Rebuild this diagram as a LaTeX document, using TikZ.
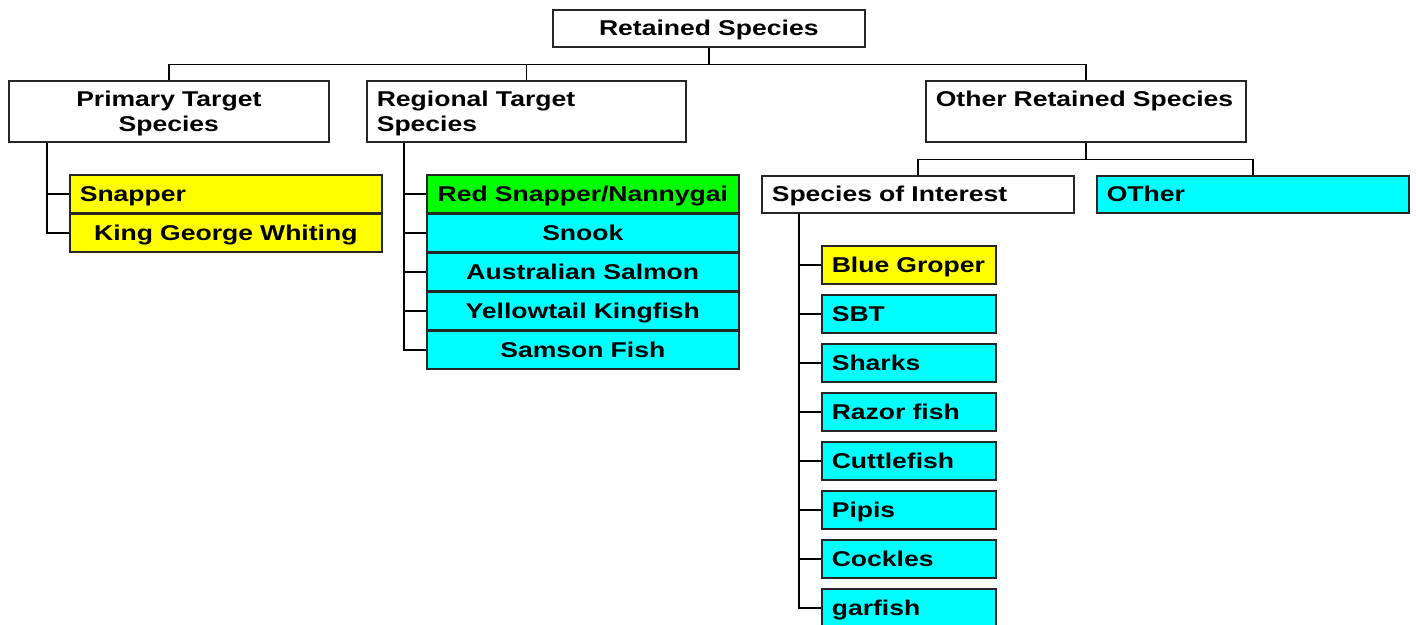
\documentclass[tikz,border=0pt]{standalone}
\usepackage{fontspec}
\newfontfamily\lab{Liberation Sans}[FakeStretch=1.24]
\definecolor{cy}{HTML}{00FFFF}
\definecolor{ye}{HTML}{FFFF00}
\definecolor{gr}{HTML}{00FF00}
\begin{document}
\begin{tikzpicture}[x=1pt,y=-1pt,
  bx/.style={draw=black!85, line width=1.6pt, anchor=north west, inner xsep=10pt, inner ysep=0pt,
     font=\lab\bfseries\fontsize{21.4}{25}\selectfont, text height=15.3pt, text depth=0pt},
  two/.style={text depth=25pt, minimum height=61pt},
  one/.style={minimum height=38pt},
  w312/.style={text width=292pt},
  w174/.style={text width=154pt},
  con/.style={draw=black, line width=1.6pt}]
\useasboundingbox (0,0) rectangle (1416,624);
% top level
\node[bx, w312, minimum height=37pt, align=center] (root) at (552,9) {Retained Species};
\node[bx, two, text width=300pt, align=center] (prim) at (8,80) {Primary Target\\Species};
\node[bx, two, text width=299pt, align=left] (reg) at (366,80) {Regional Target\\Species};
\node[bx, two, text width=300pt, align=left] (oth) at (925,80) {Other Retained Species};
% other retained children
\node[bx, w312, minimum height=37pt, align=left] (soi) at (761,175) {Species of Interest};
\node[bx, w312, minimum height=37pt, align=left, fill=cy] (otr) at (1096,175) {OTher};
% primary children
\node[bx, w312, one, align=left, fill=ye] (snap) at (69,174) {Snapper};
\node[bx, w312, one, align=center, fill=ye] (kgw) at (69,213) {King George Whiting};
% regional children
\node[bx, w312, one, align=center, fill=gr] (rsn) at (426,174) {Red Snapper/Nannygai};
\node[bx, w312, one, align=center, fill=cy] (snk) at (426,213) {Snook};
\node[bx, w312, one, align=center, fill=cy] (aus) at (426,252) {Australian Salmon};
\node[bx, w312, one, align=center, fill=cy] (ytk) at (426,291) {Yellowtail Kingfish};
\node[bx, w312, one, align=center, fill=cy] (sam) at (426,330) {Samson Fish};
% species of interest children
\node[bx, w174, one, align=left, fill=ye] (bg) at (821,245) {Blue Groper};
\node[bx, w174, one, align=left, fill=cy] (sbt) at (821,294) {SBT};
\node[bx, w174, one, align=left, fill=cy] (shk) at (821,343) {Sharks};
\node[bx, w174, one, align=left, fill=cy] (raz) at (821,392) {Razor fish};
\node[bx, w174, one, align=left, fill=cy] (cut) at (821,441) {Cuttlefish};
\node[bx, w174, one, align=left, fill=cy] (pip) at (821,490) {Pipis};
\node[bx, w174, one, align=left, fill=cy] (coc) at (821,539) {Cockles};
\node[bx, w174, one, align=left, fill=cy] (gar) at (821,588) {garfish};
% connectors
\draw[con] (root.south) -- ++(0,17) -| (prim.north);
\draw[con] (root.south) -- ++(0,17) -| (reg.north);
\draw[con] (root.south) -- ++(0,17) -| (oth.north);
\draw[con] (oth.south) -- ++(0,17) -| (soi.north);
\draw[con] (oth.south) -- ++(0,17) -| (otr.north);
\coordinate (pv) at ([xshift=39pt]prim.south west);
\foreach \n in {snap,kgw} \draw[con] (pv) |- (\n.west);
\coordinate (rv) at ([xshift=38pt]reg.south west);
\foreach \n in {rsn,snk,aus,ytk,sam} \draw[con] (rv) |- (\n.west);
\coordinate (sv) at ([xshift=38pt]soi.south west);
\foreach \n in {bg,sbt,shk,raz,cut,pip,coc,gar} \draw[con] (sv) |- (\n.west);
\end{tikzpicture}
\end{document}
